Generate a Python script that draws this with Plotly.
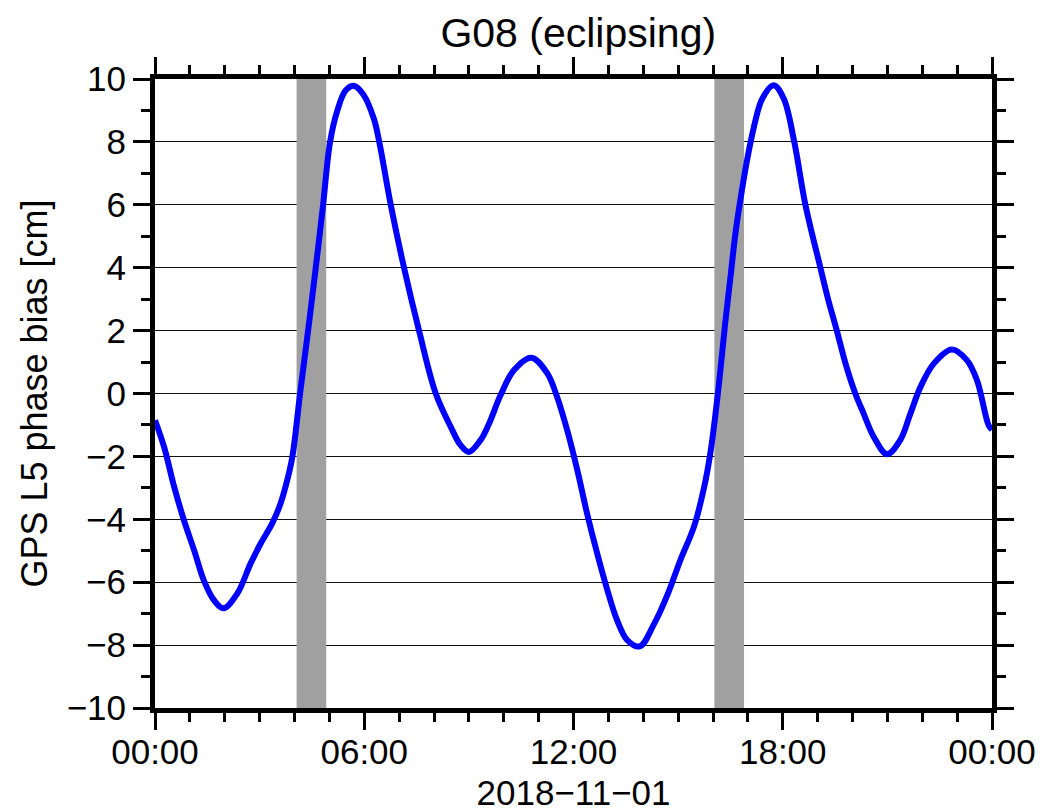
import pandas as pd
import plotly.graph_objects as go

# ---- data ----
day = "2018-11-01"
hours = [0.00, 0.26, 0.55, 0.83, 1.12, 1.40, 1.69, 1.96, 2.36, 2.74, 3.03, 3.36, 3.60, 3.79, 3.94,
         4.16, 4.39, 4.61, 4.82, 5.02, 5.23, 5.47, 5.72, 5.99, 6.28, 6.43, 6.76, 7.14, 7.57, 8.05,
         8.48, 8.76, 9.00, 9.33, 9.57, 9.91, 10.29, 10.79, 11.25, 11.53, 11.82, 12.11, 12.39, 12.68,
         12.97, 13.25, 13.54, 13.90, 14.30, 14.69, 15.07, 15.45, 15.74, 15.93, 16.14, 16.36, 16.50,
         16.64, 16.79, 16.98, 17.17, 17.41, 17.74, 18.03, 18.33, 18.65, 19.08, 19.30, 19.55, 19.80,
         20.08, 20.32, 20.61, 20.99, 21.37, 21.66, 21.95, 22.33, 22.85, 23.28, 23.57, 23.90, 24.00]
bias_cm = [-0.85, -1.70, -2.97, -4.03, -4.98, -5.94, -6.57, -6.83, -6.36, -5.41, -4.77, -4.13, -3.50,
           -2.76, -2.00, 0.00, 2.00, 4.00, 6.00, 8.00, 9.00, 9.64, 9.78, 9.48, 8.72, 8.00, 6.00, 4.00,
           2.00, 0.00, -1.06, -1.64, -1.86, -1.49, -0.98, -0.05, 0.74, 1.14, 0.64, -0.11, -1.17,
           -2.44, -3.82, -5.09, -6.25, -7.21, -7.84, -8.04, -7.35, -6.41, -5.28, -4.25, -3.01, -1.85,
           0.00, 2.33, 3.69, 5.06, 6.19, 7.44, 8.46, 9.37, 9.80, 9.37, 8.00, 6.00, 4.00, 3.00, 2.00,
           0.95, 0.00, -0.64, -1.38, -1.93, -1.48, -0.64, 0.21, 0.95, 1.40, 1.06, 0.42, -1.00, -1.15]
eclipse_start_h = [4.06, 16.04]
eclipse_end_h = [4.91, 16.89]
y_min, y_max = -10, 10

title_text = "G08 (eclipsing)"
y_title = "GPS L5 phase bias [cm]"
x_title = "2018\u221211\u221201"

base = pd.Timestamp(day)
def ts(h):
    return (base + pd.Timedelta(seconds=round(h * 3600))).strftime("%Y-%m-%d %H:%M:%S")

times = [ts(h) for h in hours]

FONT = "Liberation Sans, Arial, Helvetica, sans-serif"

fig = go.Figure()

# eclipse bands (drawn as traces: above gridlines, below the curve)
for s, e in zip(eclipse_start_h, eclipse_end_h):
    fig.add_trace(go.Scatter(
        x=[ts(s), ts(e), ts(e), ts(s), ts(s)],
        y=[y_min, y_min, y_max, y_max, y_min],
        mode="lines", fill="toself", fillcolor="#a0a0a0",
        line=dict(width=0, color="#a0a0a0"),
        showlegend=False, hoverinfo="skip",
    ))

fig.add_trace(go.Scatter(
    x=times, y=bias_cm, mode="lines",
    line=dict(color="#0000ff", width=6, shape="spline", smoothing=1.0),
    showlegend=False, hoverinfo="skip",
))

axis_common = dict(
    showline=True, linewidth=5, linecolor="black", mirror="ticks",
    ticks="outside", ticklen=17, tickwidth=2.5, tickcolor="black",
    tickfont=dict(family=FONT, size=35, color="black"),
    automargin=False,
)

fig.update_xaxes(
    type="date",
    range=[ts(0), ts(24)],
    dtick=6 * 3600 * 1000,
    tick0=ts(0),
    tickformat="%H:%M",
    showgrid=False, zeroline=False,
    ticklabelstandoff=-8,
    minor=dict(dtick=3600 * 1000, ticklen=9, tickwidth=2.5, tickcolor="black", ticks="outside", showgrid=False),
    title=dict(text=x_title, font=dict(family=FONT, size=35, color="black"), standoff=20),
    **axis_common,
)
fig.update_yaxes(
    range=[y_min, y_max],
    dtick=2, tick0=0,
    showgrid=True, gridcolor="#111111", gridwidth=1.2,
    zeroline=False,
    minor=dict(dtick=1, ticklen=9, tickwidth=2.5, tickcolor="black", ticks="outside", showgrid=False),
    title=dict(text=y_title, font=dict(family=FONT, size=36, color="black"), standoff=10),
    **axis_common,
)

fig.update_layout(
    width=1061, height=812,
    margin=dict(l=155, r=69, t=79, b=104, pad=0),
    paper_bgcolor="white", plot_bgcolor="white",
    title=dict(text=title_text, font=dict(family=FONT, size=41, color="black"),
               x=0.545, xanchor="center", y=1 - 33 / 812, yanchor="middle", xref="container", yref="container"),
    font=dict(family=FONT, color="black"),
)

fig.write_html("out.html")
